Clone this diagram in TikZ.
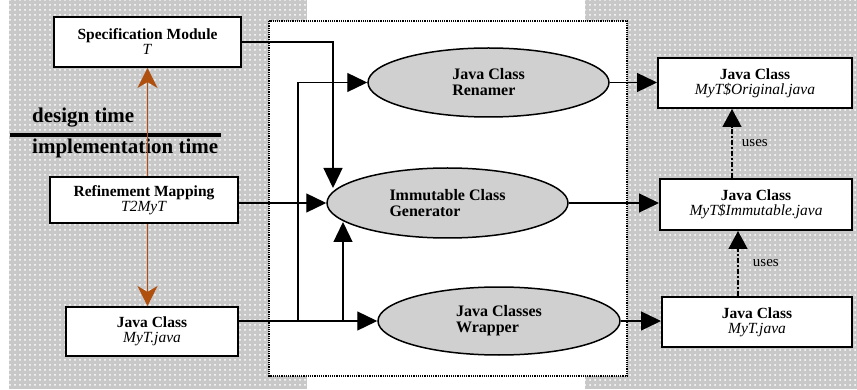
\documentclass[tikz,border=0pt]{standalone}
\usepackage{fontspec}
\setmainfont{Liberation Serif}
\usetikzlibrary{arrows.meta,patterns.meta,shapes.geometric}
\definecolor{panel}{HTML}{C8C8C8}
\definecolor{toolfill}{HTML}{D0D0D0}
\definecolor{refine}{HTML}{B0500F}
\tikzstyle{class_box}=[rectangle,
                       draw=black,
                       line width=2pt,
                       fill=white,
                       align=center,
                       inner sep=0pt,
                       font=\fontsize{15.5}{15}\selectfont ]
\tikzstyle{tool_ellipse}=[ellipse,
                          draw=black,
                          line width=1.5pt,
                          fill=toolfill,
                          align=left,
                          inner sep=0pt,
                          minimum width=241pt,
                          minimum height=69pt,
                          font=\bfseries\fontsize{16}{16}\selectfont ]
\tikzstyle{arrow_line}=[line width=1.3pt, -{Triangle[length=20pt,width=19pt]}]
\tikzstyle{uses_line}=[line width=1.3pt, dash pattern=on 5pt off 2pt on 2pt off 2pt,
                       -{Triangle[length=18pt,width=19pt]}]
\tikzstyle{refine_line}=[refine, line width=1.3pt, -{Stealth[length=20pt,width=20pt,inset=6pt]}]

\begin{document}
\begin{tikzpicture}[x=1pt, y=-1pt]
  \useasboundingbox (0,0) rectangle (857,390);
  % background panels
  \fill[panel] (9,0) rectangle (857,389);
  \fill[pattern={Dots[distance=5pt,radius=1pt]}, pattern color=white] (9,0) rectangle (857,389);
  \fill[white] (307,0) rectangle (585,390);
  \draw[fill=white, line width=1.2pt, densely dotted] (269,21) rectangle (627,376);

  % design / implementation
  \node at (32,123) (design) [anchor=base west, font=\bfseries\fontsize{21}{21}\selectfont, inner sep=0pt] {design time};
  \node at (32,154) (impl) [anchor=base west, font=\bfseries\fontsize{21}{21}\selectfont, inner sep=0pt] {implementation time};
  \draw[line width=3.5pt] (10,135) -- (221,135);

  % left side
  \node at (147.5,42) (spec) [class_box, minimum width=187pt, minimum height=50pt] {\textbf{Specification Module}\\\textit{T}};
  \node at (144,200) (refmap) [class_box, minimum width=188pt, minimum height=46pt] {\textbf{Refinement Mapping}\\\textit{T2MyT}};
  \node at (152,331.5) (javaL) [class_box, minimum width=172pt, minimum height=49pt] {\textbf{Java Class}\\\textit{MyT.java}};

  % tools
  \node at (488.5,82.5) (renamer) [tool_ellipse] {Java Class\\Renamer};
  \node at (447.5,203) (immut) [tool_ellipse, minimum height=70pt] {Immutable Class\\Generator};
  \node at (499,321) (wrapper) [tool_ellipse, minimum width=242pt, minimum height=68pt] {Java Classes\\Wrapper};

  % right side
  \node at (755,83) (orig) [class_box, minimum width=194pt, minimum height=50pt] {\textbf{Java Class}\\\textit{MyT\$Original.java}};
  \node at (756,204.5) (immbox) [class_box, minimum width=192pt, minimum height=51pt] {\textbf{Java Class}\\\textit{MyT\$Immutable.java}};
  \node at (757,322) (javaR) [class_box, minimum width=190pt, minimum height=50pt] {\textbf{Java Class}\\\textit{MyT.java}};

  \coordinate (genIn) at (333,188);
  \coordinate (bus) at (298,321);
  \coordinate (up) at (343,321);
  \coordinate (upEnd) at (343,222);

  \draw[arrow_line] (spec.east) -| (genIn);
  \draw[arrow_line] (refmap.east |- immut.west) -- (immut.west);
  \draw[arrow_line] (javaL.east |- wrapper.west) -- (wrapper.west);
  \draw[arrow_line] (bus) |- (renamer.west);
  \draw[arrow_line] (up) -- (upEnd);

  \draw[arrow_line] (renamer.east) -- (renamer.east -| orig.west);
  \draw[arrow_line] (immut.east) -- (immut.east -| immbox.west);
  \draw[arrow_line] (wrapper.east) -- (wrapper.east -| javaR.west);

  \draw[uses_line] ([xshift=-24pt]immbox.north) -- ([xshift=-24pt]immbox.north |- orig.south)
    node [midway, right=6pt, font=\fontsize{15}{15}\selectfont] (uses1) {uses};
  \draw[uses_line] ([xshift=-19pt]javaR.north) -- ([xshift=-19pt]javaR.north |- immbox.south)
    node [midway, right=11pt, font=\fontsize{15}{15}\selectfont] (uses2) {uses};

  \draw[refine_line] (refmap.north -| spec.south) -- (spec.south);
  \draw[refine_line] (refmap.south -| spec.south) -- (spec.south |- javaL.north);
\end{tikzpicture}
\end{document}
